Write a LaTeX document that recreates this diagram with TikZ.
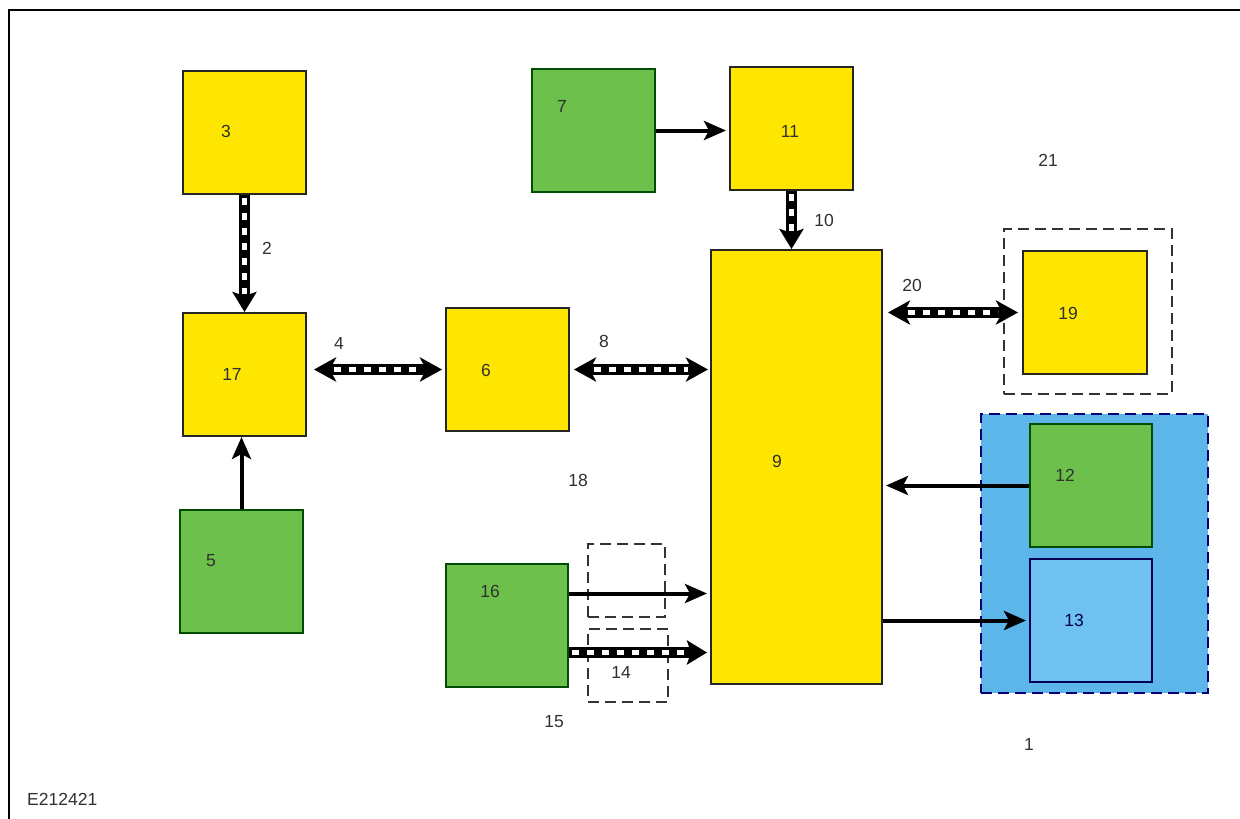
\documentclass[tikz,border=0pt]{standalone}
\usepackage{fontspec}
\setmainfont{Liberation Sans}
\usetikzlibrary{arrows.meta,calc}
\definecolor{ylw}{HTML}{FFE600}
\definecolor{grn}{HTML}{6DC04B}
\definecolor{blu}{HTML}{5DB6EA}
\definecolor{blu2}{HTML}{6EC1F0}
\definecolor{txt}{HTML}{303030}
\tikzset{
 box/.style={draw=black!85, line width=2pt, minimum width=123pt, minimum height=123pt, inner sep=0pt, anchor=north west},
 ybox/.style={box, fill=ylw},
 gbox/.style={box, fill=grn, draw=black!70!green},
 lbl/.style={font=\fontsize{17.5}{17.5}\selectfont, text=txt, inner sep=0pt},
 dbox/.style={draw=black!80, dash pattern=on 11pt off 6pt, line width=2pt, inner sep=0pt, anchor=north west},
 sig/.style={line width=4pt, -{Stealth[length=22pt,width=19pt,inset=5pt]}},
 net/.style={line width=11pt, -{Stealth[length=20pt,width=24pt,inset=4pt]},
   postaction={draw=white, line width=4.5pt, dash pattern=on 7pt off 8pt, shorten >=18pt, shorten <=3pt, -}},
 net2/.style={line width=11pt, {Stealth[length=22pt,width=24pt,inset=6pt]}-{Stealth[length=22pt,width=24pt,inset=6pt]},
   postaction={draw=white, line width=4.5pt, dash pattern=on 7pt off 8pt, shorten >=20pt, shorten <=20pt, -}}
}
\begin{document}
\begin{tikzpicture}[x=1pt,y=-1pt]
\useasboundingbox (0,0) rectangle (1240,819);
\draw[line width=2pt] (9,819) -- (9,10) -- (1240,10);
% boxes
\node[ybox] (b3) at (182,70) {};
\node[ybox] (b17) at (182,312) {};
\node[gbox] (b5) at (179,509) {};
\node[gbox] (b7) at (531,68) {};
\node[ybox] (b11) at (729,66) {};
\node[ybox] (b6) at (445,307) {};
\node[ybox, minimum width=171pt, minimum height=434pt] (b9) at (710,249) {};
\node[dbox, minimum width=168pt, minimum height=165pt] (d19) at (1003,228) {};
\node[ybox, minimum width=124pt] (b19) at (1022,250) {};
\node[dbox, fill=blu, draw=black!55!blue, minimum width=227pt, minimum height=279pt] (d1) at (980,413) {};
\node[gbox, minimum width=122pt] (b12) at (1029,423) {};
\node[box, fill=blu2, draw=blue!35!black, minimum width=122pt] (b13) at (1029,558) {};
\node[gbox, minimum width=122pt] (b16) at (445,563) {};
\node[dbox, minimum width=77pt, minimum height=73pt] (d18) at (587,543) {};
\node[dbox, minimum width=80pt, minimum height=73pt] (d14) at (587,628) {};
% connectors
\draw[net] (b3.south) -- (b17.north);
\draw[sig] (b5.north) -- (b5.north |- b17.south);
\draw[net2] ([xshift=7pt]b17.east |- b6.west) -- ([xshift=-3pt]b6.west);
\draw[net2] ([xshift=4pt]b6.east) -- ([xshift=-2pt]b9.west |- b6.east);
\draw[sig] (b7.east) -- ([xshift=-3pt]b11.west |- b7.east);
\draw[net] (b11.south) -- (b11.south |- b9.north);
\draw[net2] ([xshift=5pt]b9.east |- b19.west) -- ([xshift=-4pt]b19.west);
\draw[sig] (b12.west) -- ([xshift=3pt]b9.east |- b12.west);
\draw[sig] (b9.east |- b13.west) -- ([xshift=-3pt]b13.west);
\coordinate (s16a) at ([yshift=32pt]b16.east);
\coordinate (s16b) at ([yshift=-27pt]b16.east);
\draw[sig] (s16a) -- ([xshift=-3pt]b9.west |- s16a);
\draw[net] (s16b) -- ([xshift=-3pt]b9.west |- s16b);
% labels
\node[lbl] (t3) at (226,131) {3};
\node[lbl] (t17) at (232,374) {17};
\node[lbl] (t5) at (211,561) {5};
\node[lbl] (t7) at (562,106) {7};
\node[lbl] (t11) at (790,131) {11};
\node[lbl] (t6) at (486,370) {6};
\node[lbl] (t9) at (777,461) {9};
\node[lbl] (t19) at (1068,313) {19};
\node[lbl] (t12) at (1065,475) {12};
\node[lbl, text=blue!30!black] (t13) at (1074,620) {13};
\node[lbl] (t16) at (490,591) {16};
\node[lbl] (t14) at (621,672) {14};
\node[lbl] (t2) at (267,248) {2};
\node[lbl] (t4) at (339,343) {4};
\node[lbl] (t8) at (604,341) {8};
\node[lbl] (t10) at (824,220) {10};
\node[lbl] (t20) at (912,285) {20};
\node[lbl] (t21) at (1048,160) {21};
\node[lbl] (t18) at (578,480) {18};
\node[lbl] (t15) at (554,722) {15};
\node[lbl] (t1) at (1029,744) {1};
\node[lbl, anchor=west] (tE) at (27,799) {E212421};
\end{tikzpicture}
\end{document}
